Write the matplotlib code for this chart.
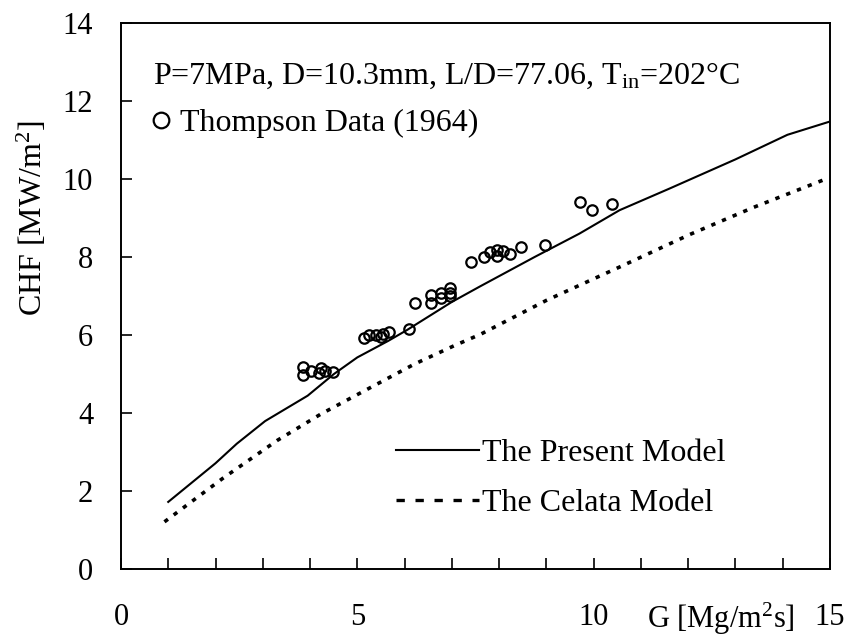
import matplotlib
matplotlib.use("Agg")
import matplotlib.pyplot as plt
from matplotlib.lines import Line2D

plt.rcParams['font.family'] = ['Liberation Serif', 'DejaVu Serif']
plt.rcParams['mathtext.fontset'] = 'custom'
plt.rcParams['mathtext.rm'] = 'Liberation Serif'
plt.rcParams['mathtext.it'] = 'Liberation Serif:italic'

# present model curve
present_g = [1.0, 2.0, 2.45, 3.05, 3.95, 4.5, 5.0, 5.65, 6.05, 7.0, 7.6,
             8.75, 9.7, 10.55, 11.6, 13.0, 14.1, 15.0]
present_chf = [1.73, 2.72, 3.22, 3.8, 4.45, 5.0, 5.43, 5.85, 6.13, 6.85, 7.25,
               8.0, 8.6, 9.2, 9.75, 10.5, 11.13, 11.47]

# Celata model curve
celata_g = [0.92, 2.15, 3.3, 4.23, 5.22, 6.21, 7.05, 7.62, 9.0, 10.56, 12.04,
            13.38, 14.96]
celata_chf = [1.22, 2.33, 3.3, 3.98, 4.62, 5.26, 5.73, 6.03, 6.89, 7.75, 8.58,
              9.27, 10.02]

# Thompson (1964) measurements
thompson_g = [3.86, 3.86, 4.03, 4.20, 4.23, 4.32, 4.48, 5.15, 5.25, 5.39, 5.50,
              5.54, 5.68, 6.10, 6.22, 6.57, 6.57, 6.77, 6.77, 6.97, 6.97, 6.97,
              7.40, 7.68, 7.81, 7.95, 7.95, 8.09, 8.23, 8.46, 8.97, 9.72, 9.96,
              10.39]
thompson_chf = [4.98, 5.19, 5.09, 5.02, 5.17, 5.07, 5.05, 5.92, 6.01, 6.01, 5.94,
                6.02, 6.07, 6.17, 6.83, 6.83, 7.03, 6.96, 7.09, 7.00, 7.20, 7.09,
                7.88, 8.00, 8.13, 8.02, 8.17, 8.16, 8.07, 8.25, 8.30, 9.41, 9.20,
                9.37]

x_ticks = [0, 5, 10, 15]
y_ticks = [0, 2, 4, 6, 8, 10, 12, 14]

fig = plt.figure(figsize=(8.46, 6.38), dpi=100)
ax = fig.add_axes([0.143, 0.1074, 0.838, 0.857])

ax.plot(present_g, present_chf, color='black', lw=1.5)
ax.plot(celata_g, celata_chf, color='black', lw=2.6, dashes=(1.2, 2.0),
        dash_capstyle='butt')
pts, = ax.plot(thompson_g, thompson_chf, 'o', mfc='none', mec='black',
               ms=7.5, mew=1.6, ls='none')

ax.set_xlim(0, 15)
ax.set_ylim(0, 14)
ax.set_xticks(x_ticks)
ax.set_xticks(range(16), minor=True)
ax.set_yticks(y_ticks)
ax.tick_params(axis='both', which='both', direction='in', labelsize=22,
               width=1.2, top=False, right=False)
ax.tick_params(axis='x', which='both', length=8, pad=24)
ax.tick_params(axis='y', which='major', length=8, pad=20)
for s in ax.spines.values():
    s.set_linewidth(1.4)

ax.text(-0.1255, 0.643, 'CHF [MW/m$^2$]', transform=ax.transAxes,
        rotation=90, ha='center', va='center', fontsize=23)
ax.text(0.846, -0.107, 'G [Mg/m$^2$s]', transform=ax.transAxes,
        ha='center', va='baseline', fontsize=22)

ax.text(0.045, 0.888, 'P=7MPa, D=10.3mm, L/D=77.06, T$_{\\mathrm{in}}$=202°C',
        transform=ax.transAxes, ha='left', va='baseline', fontsize=23)

leg1 = ax.legend([pts], ['Thompson Data (1964)'], loc='upper left',
                 bbox_to_anchor=(0.02, 0.872), frameon=False, fontsize=23,
                 handlelength=0.6, handletextpad=0.3, borderpad=0,
                 markerscale=1.5)
ax.add_artist(leg1)

h_present = Line2D([], [], color='black', lw=1.5)
h_celata = Line2D([], [], color='black', lw=2.4, dashes=(2.5, 3.2))
ax.legend([h_present, h_celata], ['The Present Model', 'The Celata Model'],
          loc='upper left', bbox_to_anchor=(0.365, 0.268), frameon=False,
          fontsize=23, handlelength=2.6, handletextpad=0.1, borderpad=0,
          labelspacing=0.65)

fig.savefig('out.png', dpi=100)
